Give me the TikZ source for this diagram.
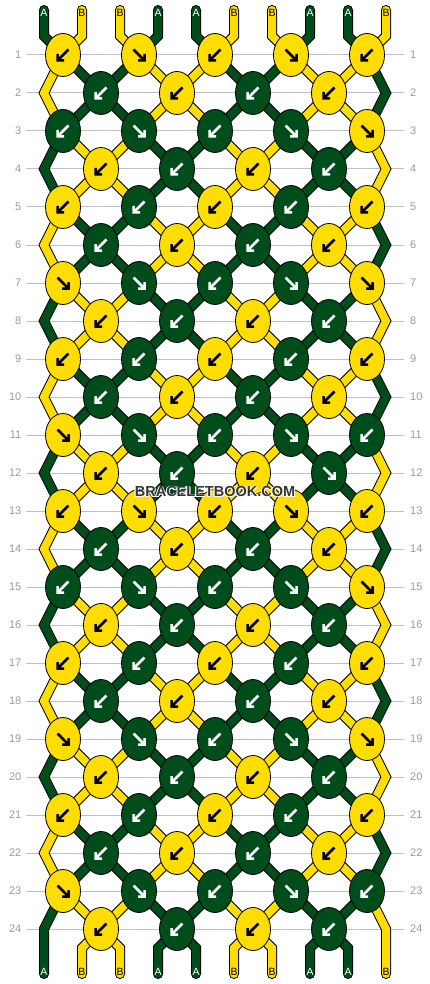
\documentclass[tikz,border=0pt]{standalone}
\usepackage{fontspec}
\setmainfont{Liberation Sans}
\usepackage{tikz}
\usetikzlibrary{shapes,calc,positioning}

\definecolor{strA}{HTML}{004D1C}
\definecolor{strB}{HTML}{FFDD00}
\colorlet{inkA}{white}
\colorlet{inkB}{black}
\definecolor{rowrule}{HTML}{C0C0C0}
\definecolor{rownum}{HTML}{9A9A9A}
\definecolor{markgray}{HTML}{333333}

\newcommand\haloed[1]{\leavevmode
  \rlap{\kern-0.9pt\raisebox{0.9pt}{\textcolor{white}{#1}}}%
  \rlap{\kern0.9pt\raisebox{0.9pt}{\textcolor{white}{#1}}}%
  \rlap{\kern-0.9pt\raisebox{-0.9pt}{\textcolor{white}{#1}}}%
  \rlap{\kern0.9pt\raisebox{-0.9pt}{\textcolor{white}{#1}}}%
  \textcolor{markgray}{#1}}

\pgfdeclarelayer{back}
\pgfsetlayers{back,main}

\tikzset{
  knot/.style={ellipse,draw=black,line width=0.8pt,minimum width=35pt,minimum height=43pt,inner sep=0pt},
  strand/.style={draw=black,line width=1pt,double distance=8pt,line join=miter,line cap=round},
  knotarrow/.style={line width=2.5pt,line join=miter},
  rowlabel/.style={text=rownum,inner sep=0pt,font=\fontsize{11}{11}\selectfont},
  endlabel/.style={inner sep=0pt,font=\fontsize{10.5}{10.5}\selectfont},
  markfont/.style={inner sep=0pt,font=\bfseries\fontsize{14.5}{14.5}\selectfont}
}

\begin{document}
\begin{tikzpicture}[x=1pt,y=-1pt]
  \useasboundingbox (0,0) rectangle (430,984);

  \begin{pgfonlayer}{back}
    \foreach \rw in {1,...,24}{
      \pgfmathsetmacro\y{55+38*(\rw-1)}
      \draw[rowrule,line width=1pt] (26,\y) -- (404,\y);
    }
  \end{pgfonlayer}

  \foreach \j/\q in {0/A,1/B,2/B,3/A,4/A,5/B,6/B,7/A,8/A,9/B}{
    \pgfmathsetmacro\x{44+38*\j}
    \coordinate (top\j) at (\x,10);
    \coordinate (bend\j) at (\x,36);
    \coordinate (low\j) at (\x,948);
    \coordinate (end\j) at (\x,974);
    \node[endlabel,text=ink\q] (head\j) at (\x,12.5) {\q};
    \expandafter\xdef\csname let\j\endcsname{\q}
    \expandafter\xdef\csname at\j\endcsname{\j}
    \expandafter\xdef\csname way\j\endcsname{(top\j) -- (bend\j)}
  }

  \foreach \rw/\pat in {1/{b,f,b,f,b},2/{b,b,b,b},3/{b,f,b,f,f},4/{b,b,b,b},
      5/{b,b,b,b,b},6/{b,b,b,b},7/{f,f,b,f,f},8/{b,b,b,b},
      9/{b,b,b,b,b},10/{b,b,b,b},11/{f,f,b,f,b},12/{b,b,b,f},
      13/{b,f,b,f,b},14/{b,b,b,b},15/{b,f,b,f,f},16/{b,b,b,b},
      17/{b,b,b,b,b},18/{b,b,b,b},19/{f,f,b,f,f},20/{b,b,b,b},
      21/{b,b,b,b,b},22/{b,b,b,b},23/{f,f,b,f,b},24/{b,b,b,b}}{
    \pgfmathtruncatemacro\odd{mod(\rw,2)}
    \pgfmathsetmacro\y{55+38*(\rw-1)}
    \node[rowlabel,anchor=east] (rl\rw) at (21.5,\y) {\rw};
    \node[rowlabel,anchor=west] (rr\rw) at (410,\y) {\rw};
    \ifnum\odd=0
      \coordinate (edge\rw-0) at (44,\y);
      \coordinate (edge\rw-9) at (386,\y);
      \edef\lid{\csname at0\endcsname}
      \expandafter\xdef\csname way\lid\endcsname{\csname way\lid\endcsname\space-- (edge\rw-0)}
      \edef\lid{\csname at9\endcsname}
      \expandafter\xdef\csname way\lid\endcsname{\csname way\lid\endcsname\space-- (edge\rw-9)}
    \fi
    \foreach \dir [count=\k] in \pat {
      \pgfmathtruncatemacro\lp{2*\k-1-\odd}
      \pgfmathtruncatemacro\rp{\lp+1}
      \pgfmathsetmacro\x{63+38*\lp}
      \edef\lid{\csname at\lp\endcsname}
      \edef\rid{\csname at\rp\endcsname}
      \if\dir f\edef\upid{\lid}\else\edef\upid{\rid}\fi
      \edef\kl{\csname let\upid\endcsname}
      \node[knot,fill=str\kl] (k\rw-\k) at (\x,\y) {};
      \if\dir f
        \draw[knotarrow,ink\kl] (k\rw-\k.center) ++(-5.5,-5.5) -- ++(11,11) ++(-6.5,0) -- ++(6.5,0) -- ++(0,-6.5);
      \else
        \draw[knotarrow,ink\kl] (k\rw-\k.center) ++(5.5,-5.5) -- ++(-11,11) ++(6.5,0) -- ++(-6.5,0) -- ++(0,-6.5);
      \fi
      \expandafter\xdef\csname way\lid\endcsname{\csname way\lid\endcsname\space-- (k\rw-\k.center)}
      \expandafter\xdef\csname way\rid\endcsname{\csname way\rid\endcsname\space-- (k\rw-\k.center)}
      \expandafter\xdef\csname at\lp\endcsname{\rid}
      \expandafter\xdef\csname at\rp\endcsname{\lid}
    }
  }

  \foreach \i in {0,...,9}{
    \edef\lid{\csname at\i\endcsname}
    \edef\q{\csname let\lid\endcsname}
    \pgfmathsetmacro\x{44+38*\i}
    \node[endlabel,text=ink\q] (foot\i) at (\x,972) {\q};
    \expandafter\xdef\csname way\lid\endcsname{\csname way\lid\endcsname\space-- (low\i) -- (end\i)}
  }

  \begin{pgfonlayer}{back}
    \foreach \j in {0,...,9}{
      \edef\q{\csname let\j\endcsname}
      \edef\act{\noexpand\draw[strand,double=str\q] \csname way\j\endcsname;}
      \act
    }
  \end{pgfonlayer}

  \node[markfont] (mark) at (215,492) {\haloed{BRACELETBOOK.COM}};
\end{tikzpicture}
\end{document}
